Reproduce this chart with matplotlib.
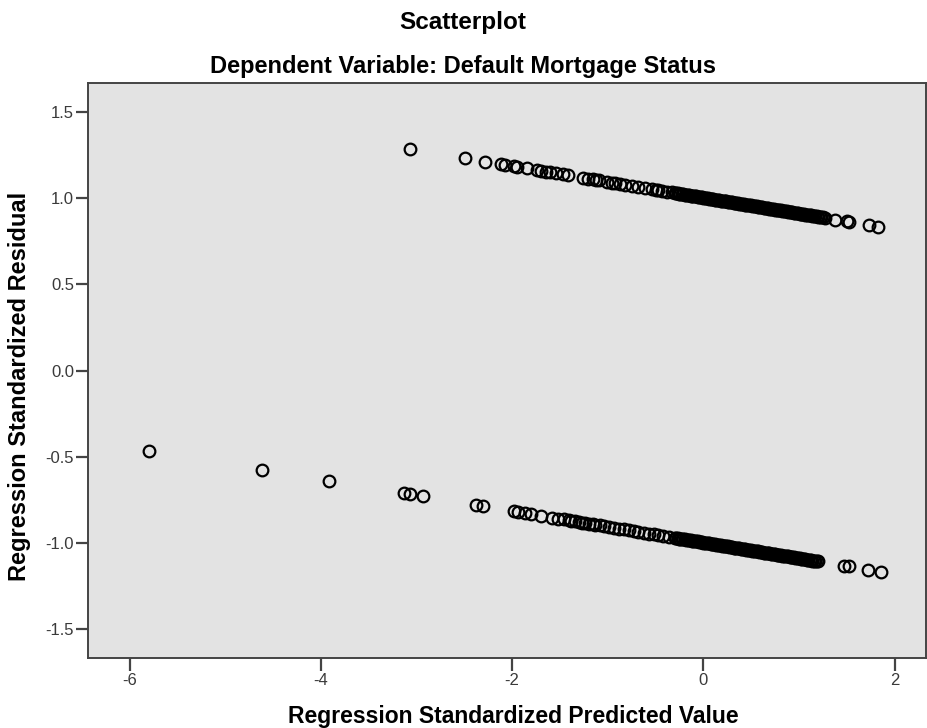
import matplotlib
matplotlib.use("Agg")
import matplotlib.pyplot as plt

plt.rcParams['font.family'] = ['Liberation Sans', 'DejaVu Sans']

# Upper band (observed status = 1)
upper_x = [-3.07, -2.49, -2.28, -2.12, -2.07, -1.98, -1.95, -1.85, -1.74, -1.70, -1.65, -1.60,
           -1.54, -1.47, -1.42, -1.26, -1.21, -1.16, -1.12, -1.09, -1.01, -0.96, -0.92, -0.87,
           -0.82, -0.75, -0.68, -0.61, -0.54, -0.50, -0.47, -0.43, -0.38, -0.33,
           -0.30, -0.27, -0.24, -0.21, -0.18, -0.15, -0.12, -0.09, -0.06, -0.03, 0.00, 0.03,
           0.06, 0.09, 0.12, 0.15, 0.18, 0.21, 0.24, 0.27, 0.30, 0.33, 0.36, 0.39, 0.42, 0.45,
           0.48, 0.51, 0.54, 0.57, 0.60, 0.63, 0.66, 0.69, 0.72, 0.75, 0.78, 0.81, 0.84, 0.87,
           0.90, 0.93, 0.96, 0.99, 1.02, 1.05, 1.08, 1.11, 1.14, 1.17, 1.20, 1.23, 1.27,
           1.38, 1.50, 1.52, 1.73, 1.83]
upper_y = [1.285, 1.232, 1.213, 1.198, 1.194, 1.186, 1.183, 1.174, 1.164, 1.160, 1.155, 1.151,
           1.145, 1.139, 1.134, 1.120, 1.115, 1.110, 1.107, 1.104, 1.097, 1.092, 1.088, 1.084,
           1.079, 1.073, 1.066, 1.060, 1.054, 1.050, 1.047, 1.043, 1.039, 1.034,
           1.032, 1.029, 1.026, 1.023, 1.021, 1.018, 1.015, 1.012, 1.010, 1.007, 1.004, 1.001,
           0.999, 0.996, 0.993, 0.990, 0.987, 0.985, 0.982, 0.979, 0.976, 0.974, 0.971, 0.968,
           0.965, 0.963, 0.960, 0.957, 0.954, 0.952, 0.949, 0.946, 0.943, 0.941, 0.938, 0.935,
           0.932, 0.930, 0.927, 0.924, 0.921, 0.919, 0.916, 0.913, 0.910, 0.908, 0.905, 0.902,
           0.899, 0.897, 0.894, 0.891, 0.888,
           0.877, 0.866, 0.865, 0.845, 0.836]
upper_dense_x = [-0.285, -0.255, -0.225, -0.195, -0.165, -0.135, -0.105, -0.075, -0.045, -0.015,
                 0.015, 0.045, 0.075, 0.105, 0.135, 0.165, 0.195, 0.225, 0.255, 0.285, 0.315,
                 0.345, 0.375, 0.405, 0.435, 0.465, 0.495, 0.525, 0.555, 0.585, 0.615, 0.645,
                 0.675, 0.705, 0.735, 0.765, 0.795, 0.825, 0.855, 0.885, 0.915, 0.945, 0.975,
                 1.005, 1.035, 1.065, 1.095, 1.125, 1.155, 1.185, 1.215, 1.245]
upper_dense_y = [1.030, 1.027, 1.025, 1.022, 1.019, 1.016, 1.014, 1.011, 1.008, 1.005,
                 1.003, 1.000, 0.997, 0.994, 0.992, 0.989, 0.986, 0.983, 0.981, 0.978, 0.975,
                 0.972, 0.970, 0.967, 0.964, 0.961, 0.959, 0.956, 0.953, 0.950, 0.948, 0.945,
                 0.942, 0.939, 0.937, 0.934, 0.931, 0.928, 0.926, 0.923, 0.920, 0.917, 0.915,
                 0.912, 0.909, 0.906, 0.904, 0.901, 0.898, 0.895, 0.893, 0.890]

# Lower band (observed status = 0)
lower_x = [-5.80, -4.62, -3.91, -3.13, -3.07, -2.93, -2.38, -2.31,
           -1.98, -1.94, -1.87, -1.80, -1.70, -1.58, -1.52, -1.46, -1.41, -1.38, -1.34, -1.30,
           -1.27, -1.24, -1.20, -1.16, -1.13, -1.08, -1.04, -0.99, -0.94, -0.88, -0.83, -0.78,
           -0.73, -0.68, -0.62, -0.57, -0.52, -0.47, -0.42, -0.36,
           -0.30, -0.27, -0.24, -0.21, -0.18, -0.15, -0.12, -0.09, -0.06, -0.03, 0.00, 0.03,
           0.06, 0.09, 0.12, 0.15, 0.18, 0.21, 0.24, 0.27, 0.30, 0.33, 0.36, 0.39, 0.42, 0.45,
           0.48, 0.51, 0.54, 0.57, 0.60, 0.63, 0.66, 0.69, 0.72, 0.75, 0.78, 0.81, 0.84, 0.87,
           0.90, 0.93, 0.96, 0.99, 1.02, 1.05, 1.08, 1.11, 1.14, 1.17, 1.20,
           1.47, 1.52, 1.72, 1.86]
lower_y = [-0.467, -0.575, -0.640, -0.712, -0.717, -0.730, -0.781, -0.787,
           -0.817, -0.821, -0.828, -0.834, -0.843, -0.854, -0.860, -0.865, -0.870, -0.872,
           -0.876, -0.880, -0.883, -0.885, -0.889, -0.893, -0.895, -0.900, -0.904, -0.908,
           -0.913, -0.918, -0.923, -0.927, -0.932, -0.937, -0.942, -0.947, -0.951, -0.956,
           -0.960, -0.966,
           -0.971, -0.974, -0.977, -0.980, -0.982, -0.985, -0.988, -0.991, -0.993, -0.996,
           -0.999, -1.002, -1.004, -1.007, -1.010, -1.013, -1.016, -1.018, -1.021, -1.024,
           -1.027, -1.029, -1.032, -1.035, -1.038, -1.040, -1.043, -1.046, -1.049, -1.051,
           -1.054, -1.057, -1.060, -1.062, -1.065, -1.068, -1.071, -1.073, -1.076, -1.079,
           -1.082, -1.084, -1.087, -1.090, -1.093, -1.095, -1.098, -1.101, -1.104, -1.106,
           -1.109,
           -1.134, -1.138, -1.157, -1.170]
lower_dense_x = [-0.285, -0.255, -0.225, -0.195, -0.165, -0.135, -0.105, -0.075, -0.045, -0.015,
                 0.015, 0.045, 0.075, 0.105, 0.135, 0.165, 0.195, 0.225, 0.255, 0.285, 0.315,
                 0.345, 0.375, 0.405, 0.435, 0.465, 0.495, 0.525, 0.555, 0.585, 0.615, 0.645,
                 0.675, 0.705, 0.735, 0.765, 0.795, 0.825, 0.855, 0.885, 0.915, 0.945, 0.975,
                 1.005, 1.035, 1.065, 1.095, 1.125, 1.155, 1.185]
lower_dense_y = [-0.973, -0.976, -0.978, -0.981, -0.984, -0.987, -0.989, -0.992, -0.995, -0.998,
                 -1.000, -1.003, -1.006, -1.009, -1.011, -1.014, -1.017, -1.020, -1.022, -1.025,
                 -1.028, -1.031, -1.033, -1.036, -1.039, -1.042, -1.044, -1.047, -1.050, -1.053,
                 -1.055, -1.058, -1.061, -1.064, -1.066, -1.069, -1.072, -1.075, -1.077, -1.080,
                 -1.083, -1.086, -1.088, -1.091, -1.094, -1.097, -1.099, -1.102, -1.105, -1.108]

x_ticks = [-6, -4, -2, 0, 2]
x_tick_labels = ["-6", "-4", "-2", "0", "2"]
y_ticks = [-1.5, -1.0, -0.5, 0.0, 0.5, 1.0, 1.5]
y_tick_labels = ["-1.5", "-1.0", "-0.5", "0.0", "0.5", "1.0", "1.5"]

fig = plt.figure(figsize=(9.27, 7.28), dpi=100)
ax = fig.add_axes([88/927, 1 - 657.7/728, (926 - 88)/927, (657.7 - 83)/728])
ax.set_facecolor('#E3E3E3')

for xs, ys in ((upper_x, upper_y), (upper_dense_x, upper_dense_y),
               (lower_x, lower_y), (lower_dense_x, lower_dense_y)):
    ax.plot(xs, ys, linestyle='none', marker='o', markersize=8.4,
            markerfacecolor='none', markeredgecolor='#000000', markeredgewidth=1.6)

ax.set_xlim(-6.435, 2.327)
ax.set_ylim(-1.668, 1.67)
ax.set_xticks(x_ticks)
ax.set_xticklabels(x_tick_labels)
ax.set_yticks(y_ticks)
ax.set_yticklabels(y_tick_labels)

for s in ax.spines.values():
    s.set_color('#444444')
    s.set_linewidth(1.4)
ax.tick_params(axis='both', direction='out', length=9, width=1.6, color='#444444',
               labelsize=12, labelcolor='#3a3a3a')
ax.tick_params(axis='y', pad=1)
ax.tick_params(axis='x', pad=2)

ax.set_xlabel("Regression Standardized Predicted Value", fontsize=16.5, fontweight='bold')
ax.xaxis.set_label_coords((513 - 88) / (926 - 88), -(717 - 657.7) / (657.7 - 83))
ax.xaxis.label.set_va('center')
ax.set_ylabel("Regression Standardized Residual", fontsize=17, fontweight='bold')
ax.yaxis.set_label_coords(-(88 - 20) / (926 - 88), (657.7 - 386) / (657.7 - 83))
ax.yaxis.label.set_va('center')

fig.text(463 / 927, 1 - 22 / 728, "Scatterplot", ha='center', va='center',
         fontsize=17.5, fontweight='bold')
fig.text(463 / 927, 1 - 66 / 728, "Dependent Variable: Default Mortgage Status", ha='center',
         va='center', fontsize=17, fontweight='bold')

fig.savefig("out.png", dpi=100, facecolor='white')
